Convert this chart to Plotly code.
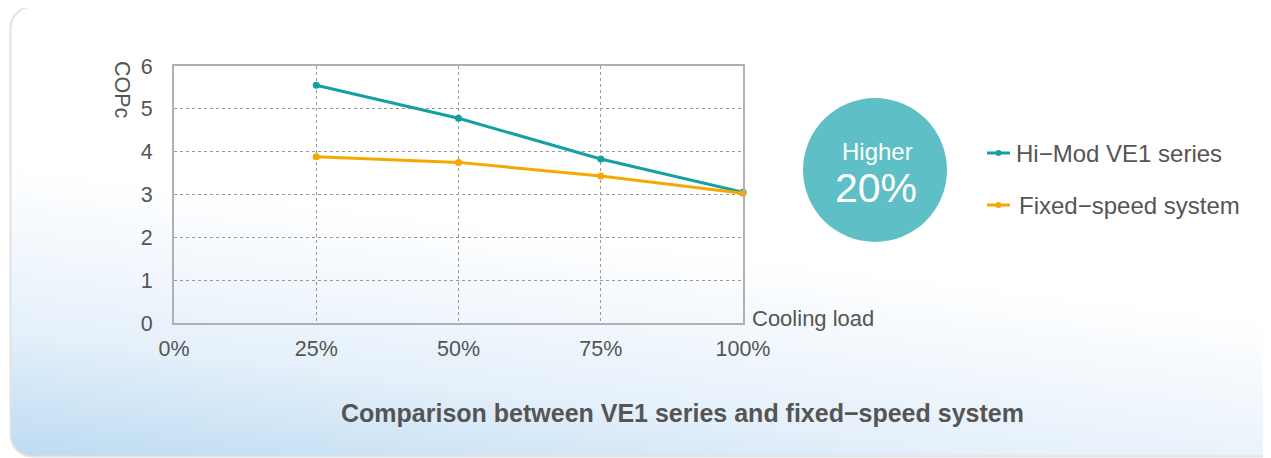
import base64
import plotly.graph_objects as go

# ---- data ----
load_pct = [25, 50, 75, 100]
himod_cop = [5.55, 4.78, 3.83, 3.05]
fixed_cop = [3.88, 3.75, 3.43, 3.03]
x_ticks = [0, 25, 50, 75, 100]
x_tick_labels = ["0%", "25%", "50%", "75%", "100%"]
y_ticks = [0, 1, 2, 3, 4, 5, 6]
series_names = ["Hi\u2212Mod VE1 series", "Fixed\u2212speed system"]
series_colors = ["#14a0a0", "#f7a800"]

W, H = 1271, 458
OFF = 8  # page body margin offset
FONT = "Liberation Sans, Arial, sans-serif"
GREY = "#555555"


def px(x):
    return (x - OFF) / W


def py(y):
    return 1 - (y - OFF) / H


# background card (rounded, gradient) as inline SVG
svg = f'''<svg xmlns="http://www.w3.org/2000/svg" width="{W}" height="{H}" viewBox="0 0 {W} {H}" preserveAspectRatio="none">
<defs><linearGradient id="g" x1="0.35" y1="0" x2="0" y2="1">
<stop offset="0" stop-color="#ffffff"/>
<stop offset="0.42" stop-color="#ffffff"/>
<stop offset="0.75" stop-color="#e5f0fa"/>
<stop offset="1" stop-color="#bcdbf2"/>
</linearGradient></defs>
<rect x="{10.5 - OFF}" y="{6.5 - OFF}" width="{W + 6}" height="450" rx="22" ry="22" fill="url(#g)" stroke="#e2e2e2" stroke-width="2"/>
</svg>'''
svg_uri = "data:image/svg+xml;base64," + base64.b64encode(svg.encode()).decode()

fig = go.Figure()
for name, vals, col in [(series_names[0], himod_cop, series_colors[0]),
                        (series_names[1], fixed_cop, series_colors[1])]:
    fig.add_trace(go.Scatter(x=load_pct, y=vals, name=name, mode="lines+markers",
                             line=dict(color=col, width=3),
                             marker=dict(color=col, size=7),
                             showlegend=False, cliponaxis=False))

fig.update_layout(
    width=W, height=H, autosize=False, showlegend=False,
    margin=dict(l=0, r=0, t=0, b=0, pad=0),
    paper_bgcolor="white", plot_bgcolor="rgba(0,0,0,0)",
    font=dict(family=FONT, color=GREY, size=21),
    images=[dict(source=svg_uri, xref="paper", yref="paper", x=0, y=1,
                 sizex=1, sizey=1, xanchor="left", yanchor="top",
                 sizing="stretch", layer="below")],
    xaxis=dict(domain=[px(174), px(743)], range=[0, 100], tickvals=x_ticks,
               ticktext=x_tick_labels, showgrid=True, gridcolor="#9a9a9a",
               griddash="dot", gridwidth=1, zeroline=False, automargin=False,
               showline=True, linecolor="#b0b0b0", linewidth=2, mirror=True,
               ticks="", ticklabelstandoff=5, tickfont=dict(size=21.5, color=GREY)),
    yaxis=dict(domain=[py(323), py(66)], range=[0, 6], tickvals=y_ticks,
               showgrid=True, gridcolor="#9a9a9a", griddash="dot", gridwidth=1,
               zeroline=False, showline=True, linecolor="#b0b0b0", linewidth=2,
               mirror=True, ticks="", ticklabelstandoff=15, automargin=False,
               tickfont=dict(size=21.5, color=GREY)),
)


def ann(text, x, y, size, color=GREY, xanchor="center", angle=0):
    return dict(text=text, x=px(x), y=py(y), xref="paper", yref="paper",
                xanchor=xanchor, yanchor="middle", showarrow=False, textangle=angle,
                font=dict(size=size, color=color, family=FONT))


annots = [
    ann("COPc", 122, 90, 21.5, angle=90),
    ann("Cooling load", 750, 318, 22, xanchor="left"),
    ann("<b>Comparison between VE1 series and fixed\u2212speed system</b>", 682, 413, 25),
    ann("Higher", 877, 151, 24, color="white"),
    ann("20%", 876, 188, 41, color="white"),
]
shapes = [
    dict(type="circle", xref="paper", yref="paper",
         x0=px(803), x1=px(947), y0=py(242), y1=py(98),
         fillcolor="#5fbfc6", line=dict(width=0), layer="below"),
]
for i, (name, col) in enumerate(zip(series_names, series_colors)):
    yc = 153 + 52 * i
    shapes.append(dict(type="line", xref="paper", yref="paper",
                       x0=px(987), x1=px(1010), y0=py(yc), y1=py(yc),
                       line=dict(color=col, width=3)))
    shapes.append(dict(type="circle", xref="paper", yref="paper",
                       x0=px(998.5 - 3), x1=px(998.5 + 3),
                       y0=py(yc + 3), y1=py(yc - 3),
                       fillcolor=col, line=dict(width=0)))
    annots.append(ann(name, 1014 + 3 * i, yc, 24, xanchor="left"))

fig.update_layout(annotations=annots, shapes=shapes)
fig.write_html("out.html")
